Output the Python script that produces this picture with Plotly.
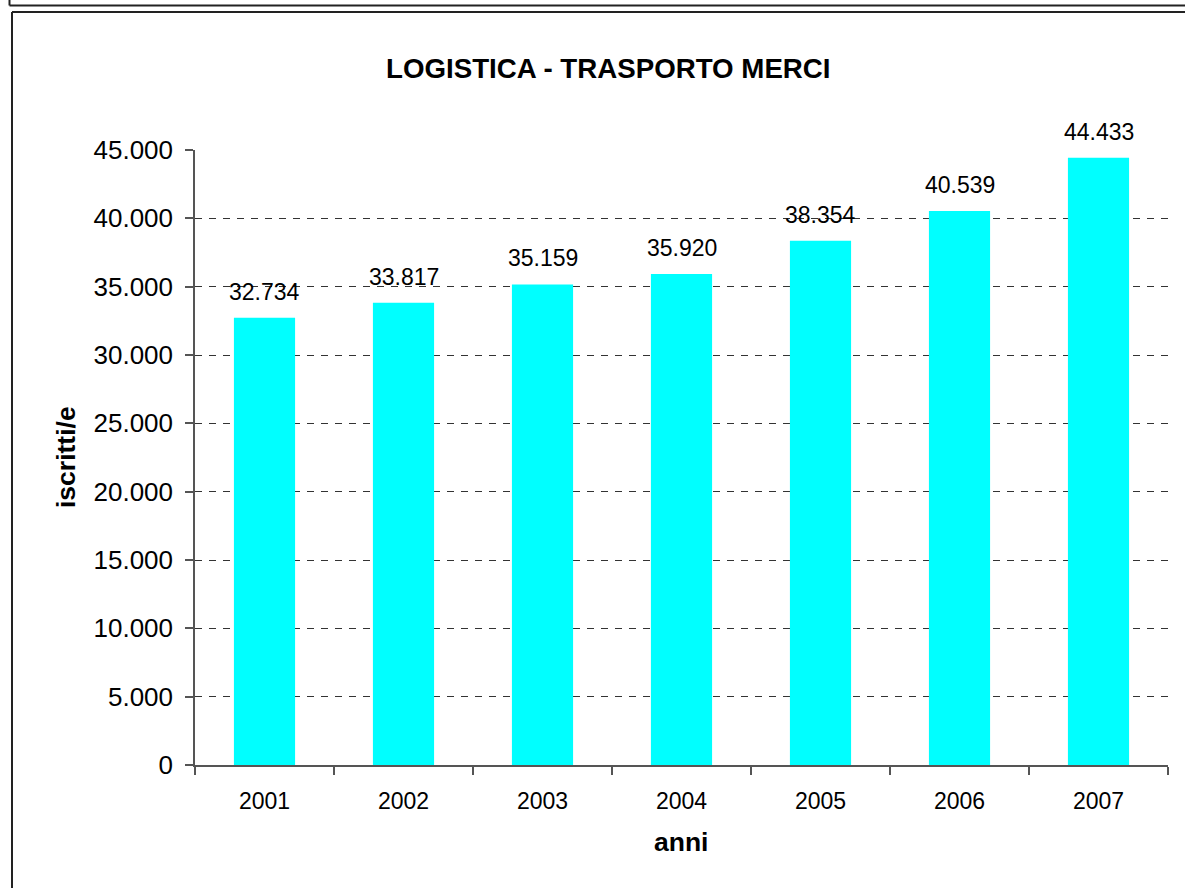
import plotly.graph_objects as go

anni = ["2001", "2002", "2003", "2004", "2005", "2006", "2007"]
iscritti = [32734, 33817, 35159, 35920, 38354, 40539, 44433]
y_ticks = [0, 5000, 10000, 15000, 20000, 25000, 30000, 35000, 40000, 45000]

W, H = 1185, 888
L, R, T, B = 195, 17, 150, 123
PW = W - L - R
PH = H - T - B

def px_x(p):
    return (p - L) / PW

def px_y(p):
    return (H - B - p) / PH

FONT = "Liberation Sans, Arial, sans-serif"

fig = go.Figure()
fig.add_trace(go.Bar(
    x=anni, y=iscritti,
    marker=dict(color="#00FFFF", line=dict(width=0)),
    hoverinfo="skip",
))

annotations = []
for i, v in enumerate(iscritti):
    annotations.append(dict(
        x=i, y=v, xref="x", yref="y",
        text=f"{v:,}".replace(",", "."),
        showarrow=False, yanchor="middle", yshift=26,
        font=dict(family=FONT, size=23, color="black"),
    ))

annotations.append(dict(
    x=px_x(681), y=px_y(842), xref="paper", yref="paper",
    text="<b>anni</b>", showarrow=False, xanchor="center", yanchor="middle",
    font=dict(family=FONT, size=26.5, color="black"),
))
annotations.append(dict(
    x=px_x(66), y=px_y(457), xref="paper", yref="paper",
    text="<b>iscritti/e</b>", showarrow=False, textangle=-90,
    xanchor="center", yanchor="middle",
    font=dict(family=FONT, size=26.5, color="black"),
))
annotations.append(dict(
    x=px_x(608), y=px_y(68), xref="paper", yref="paper",
    text="<b>LOGISTICA - TRASPORTO MERCI</b>", showarrow=False,
    xanchor="center", yanchor="middle",
    font=dict(family=FONT, size=27.7, color="black"),
))

shapes = [
    # outer frame remnants
    dict(type="line", xref="paper", yref="paper",
         x0=px_x(9.5), x1=px_x(1200), y0=px_y(5.5), y1=px_y(5.5),
         line=dict(color="#222222", width=2)),
    dict(type="line", xref="paper", yref="paper",
         x0=px_x(9.5), x1=px_x(9.5), y0=px_y(-5), y1=px_y(5.5),
         line=dict(color="#222222", width=2)),
    # chart frame
    dict(type="line", xref="paper", yref="paper",
         x0=px_x(12), x1=px_x(1200), y0=px_y(12), y1=px_y(12),
         line=dict(color="#222222", width=2)),
    dict(type="line", xref="paper", yref="paper",
         x0=px_x(12), x1=px_x(12), y0=px_y(12), y1=px_y(900),
         line=dict(color="#222222", width=2)),
]

fig.update_layout(
    width=W, height=H,
    margin=dict(l=L, r=R, t=T, b=B, pad=0),
    paper_bgcolor="white", plot_bgcolor="white",
    separators=",.",
    showlegend=False,
    bargap=0.56,
    annotations=annotations,
    shapes=shapes,
    font=dict(family=FONT, color="black"),
)
fig.update_xaxes(
    type="category", range=[-0.5, len(anni) - 0.5], tickson="boundaries",
    tickangle=0,
    ticks="outside", ticklen=8, tickwidth=1.5, tickcolor="#555555",
    showline=True, linecolor="#555555", linewidth=1.5,
    showgrid=False, zeroline=False,
    tickfont=dict(family=FONT, size=23, color="black"),
    ticklabelstandoff=15,
)
fig.update_yaxes(
    range=[0, 45000], tickvals=y_ticks, tickformat=",d",
    ticks="outside", ticklen=8, tickwidth=1.5, tickcolor="#555555",
    showline=True, linecolor="#555555", linewidth=1.5,
    showgrid=True, gridcolor="#333333", gridwidth=1, griddash="7px,7px",
    zeroline=False,
    tickfont=dict(family=FONT, size=26, color="black"),
    ticklabelstandoff=7,
)

fig.write_html(
    "out.html",
    config={"displayModeBar": False},
    post_script="document.body.style.margin='0';",
)
